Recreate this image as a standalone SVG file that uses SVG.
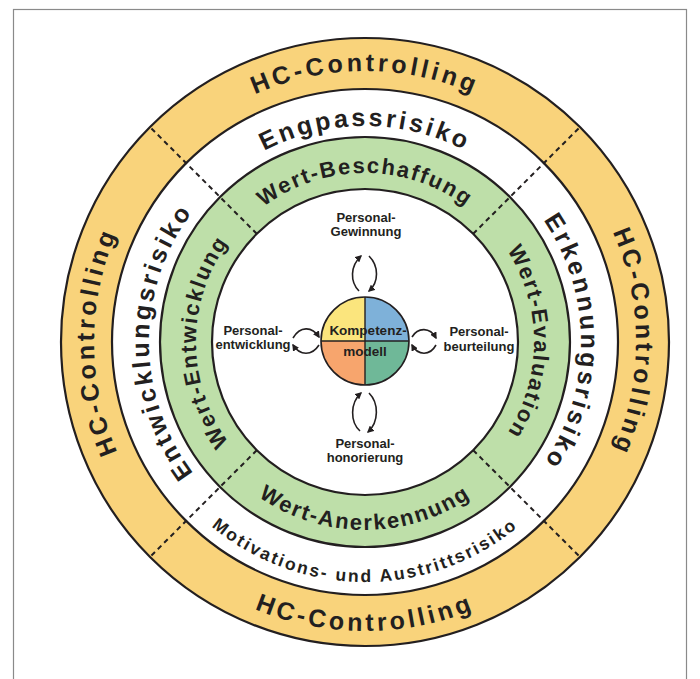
<svg xmlns="http://www.w3.org/2000/svg" width="700" height="679" viewBox="0 0 700 679">
<style>
.ring{stroke:#231F20;stroke-width:2.2}
.dash{stroke:#231F20;stroke-width:2;stroke-dasharray:5 4;fill:none}
.t{font-family:"Liberation Sans",Arial,sans-serif;font-weight:bold;fill:#231F20}
.o{font-size:25px;letter-spacing:3.5px}
.w{font-size:25px;letter-spacing:3px}
.g{font-size:22px;letter-spacing:1.8px}
.m{font-size:17.5px;letter-spacing:2.2px}
.lbl{font-size:13px;text-anchor:middle}
.arr{fill:none;stroke:#231F20;stroke-width:1.6;marker-end:url(#ah)}
</style>
<defs>
<marker id="ah" viewBox="0 0 10 10" refX="8" refY="5" markerWidth="7" markerHeight="7" markerUnits="userSpaceOnUse" orient="auto">
<path d="M0,0 L10,5 L0,10 Z" fill="#231F20"/>
</marker>
<path id="oTop" d="M94,342 A271,271 0 0 1 636,342"/>
<path id="oLeft" d="M365,613 A271,271 0 0 1 365,71"/>
<path id="oRight" d="M365,71 A271,271 0 0 1 365,613"/>
<path id="oBot" d="M76,342 A289,289 0 0 0 654,342"/>
<path id="wTop" d="M149,342 A216,216 0 0 1 581,342"/>
<path id="wLeft" d="M365,558 A216,216 0 0 1 365,126"/>
<path id="wRight" d="M365,126 A216,216 0 0 1 365,558"/>
<path id="wBot" d="M125,342 A240,240 0 0 0 605,342"/>
<path id="gTop" d="M196,342 A169,169 0 0 1 534,342"/>
<path id="gLeft" d="M365,511 A169,169 0 0 1 365,173"/>
<path id="gRight" d="M365,173 A169,169 0 0 1 365,511"/>
<path id="gBot" d="M177,342 A188,188 0 0 0 553,342"/>
</defs>
<rect x="13.5" y="9.5" width="673" height="700" fill="#fff" stroke="#8a8a8a" stroke-width="1.2"/>
<g id="rings">
<circle class="ring" cx="365" cy="342" r="304" fill="#F9D37B"/>
<circle class="ring" cx="365" cy="342" r="253" fill="#fff"/>
<circle class="ring" cx="365" cy="342" r="205" fill="#BEDFA9"/>
<circle class="ring" cx="365" cy="342" r="153" fill="#fff"/>
</g>
<g id="dividers">
<line class="dash" x1="256.8" y1="233.8" x2="150" y2="127"/>
<line class="dash" x1="473.2" y1="233.8" x2="580" y2="127"/>
<line class="dash" x1="256.8" y1="450.2" x2="150" y2="557"/>
<line class="dash" x1="473.2" y1="450.2" x2="580" y2="557"/>
</g>
<g id="hc-controlling">
<text class="t o"><textPath href="#oTop" startOffset="50%" text-anchor="middle">HC-Controlling</textPath></text>
<text class="t o"><textPath href="#oLeft" startOffset="50%" text-anchor="middle">HC-Controlling</textPath></text>
<text class="t o"><textPath href="#oRight" startOffset="50%" text-anchor="middle">HC-Controlling</textPath></text>
<text class="t o"><textPath href="#oBot" startOffset="50%" text-anchor="middle">HC-Controlling</textPath></text>
</g>
<g id="risiken">
<text class="t w"><textPath href="#wTop" startOffset="50%" text-anchor="middle">Engpassrisiko</textPath></text>
<text class="t w"><textPath href="#wLeft" startOffset="50%" text-anchor="middle">Entwicklungsrisiko</textPath></text>
<text class="t w"><textPath href="#wRight" startOffset="50%" text-anchor="middle">Erkennungsrisiko</textPath></text>
<text class="t m"><textPath href="#wBot" startOffset="50%" text-anchor="middle">Motivations- und Austrittsrisiko</textPath></text>
</g>
<g id="werte">
<text class="t g"><textPath href="#gTop" startOffset="50%" text-anchor="middle">Wert-Beschaffung</textPath></text>
<text class="t g"><textPath href="#gLeft" startOffset="50%" text-anchor="middle">Wert-Entwicklung</textPath></text>
<text class="t g"><textPath href="#gRight" startOffset="50%" text-anchor="middle">Wert-Evaluation</textPath></text>
<text class="t g"><textPath href="#gBot" startOffset="50%" text-anchor="middle">Wert-Anerkennung</textPath></text>
</g>
<g id="kompetenzmodell">
<path d="M365,341 L321,341 A44,44 0 0 1 365,297 Z" fill="#FBE57D"/>
<path d="M365,341 L365,297 A44,44 0 0 1 409,341 Z" fill="#7EB1D9"/>
<path d="M365,341 L321,341 A44,44 0 0 0 365,385 Z" fill="#F7A56D"/>
<path d="M365,341 L365,385 A44,44 0 0 0 409,341 Z" fill="#6FB898"/>
<line x1="321" y1="341" x2="409" y2="341" stroke="#231F20" stroke-width="1.4"/>
<line x1="365" y1="297" x2="365" y2="385" stroke="#231F20" stroke-width="1.4"/>
<circle cx="365" cy="341" r="44" fill="none" stroke="#231F20" stroke-width="1.6"/>
<text class="t lbl" x="368" y="335" style="font-size:13.5px">Kompetenz-</text>
<text class="t lbl" x="365" y="356" style="font-size:13.5px">modell</text>
</g>
<g id="gewinnung">
<text class="t lbl" x="366" y="222">Personal-</text>
<text class="t lbl" x="366" y="236">Gewinnung</text>
</g>
<g id="entwicklung">
<text class="t lbl" x="253" y="335">Personal-</text>
<text class="t lbl" x="253" y="349">entwicklung</text>
</g>
<g id="beurteilung">
<text class="t lbl" x="479" y="336">Personal-</text>
<text class="t lbl" x="479" y="351">beurteilung</text>
</g>
<g id="honorierung">
<text class="t lbl" x="365" y="448">Personal-</text>
<text class="t lbl" x="365" y="462">honorierung</text>
</g>
<g id="connectors">
<path class="arr" d="M359,291 C350,282 350,266 361,256"/>
<path class="arr" d="M369,256 C379,266 379,282 369,291"/>
<path class="arr" d="M360,431 C350,422 350,403 361,393"/>
<path class="arr" d="M369,393 C379,403 379,422 368,432"/>
<path class="arr" d="M293,338 C300,326 312,326 319,337"/>
<path class="arr" d="M319,345 C312,356 300,356 293,345"/>
<path class="arr" d="M412,337 C418,327 430,327 436,338"/>
<path class="arr" d="M436,345 C430,356 418,356 412,345"/>
</g>
</svg>
